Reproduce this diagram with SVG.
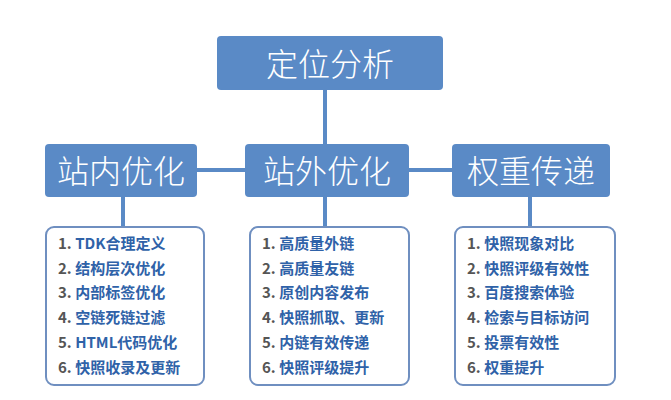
<svg xmlns="http://www.w3.org/2000/svg" width="671" height="400" viewBox="0 0 671 400">
<style>
.h{fill:#5a8ac6}
.ht{fill:#fff;font-family:"Noto Sans CJK SC",sans-serif;font-weight:300;text-anchor:middle}
.c{stroke:#5a8ac6;stroke-width:4;fill:none}
.lb{fill:#fff;stroke:#6f8fc0;stroke-width:2}
.lt{font-family:"Noto Sans CJK SC",sans-serif;font-weight:bold;font-size:15px;fill:#2f62a8}
.n{fill:#555}
</style>
<rect width="671" height="400" fill="#fff"/>
<g id="connectors">
<path class="c" d="M325 90V144M197 170H245M409 170H452M123 197V227M325 197V227M530 197V227"/>
</g>
<g id="top"><rect class="h" x="217" y="36" width="226" height="54" rx="4"/><text class="ht" x="330" y="76" font-size="32">定位分析</text></g>
<g id="n1"><rect class="h" x="45" y="144" width="152" height="53" rx="4"/><text class="ht" x="121" y="183" font-size="32">站内优化</text></g>
<g id="n2"><rect class="h" x="245" y="144" width="164" height="53" rx="4"/><text class="ht" x="327" y="183" font-size="32">站外优化</text></g>
<g id="n3"><rect class="h" x="452" y="144" width="158" height="53" rx="4"/><text class="ht" x="531" y="183" font-size="32">权重传递</text></g>
<g id="l1"><rect class="lb" x="46" y="227" width="158" height="158" rx="8"/>
<text class="lt" x="58" y="249"><tspan class="n">1. </tspan>TDK合理定义</text>
<text class="lt" x="58" y="274"><tspan class="n">2. </tspan>结构层次优化</text>
<text class="lt" x="58" y="298"><tspan class="n">3. </tspan>内部标签优化</text>
<text class="lt" x="58" y="323"><tspan class="n">4. </tspan>空链死链过滤</text>
<text class="lt" x="58" y="348"><tspan class="n">5. </tspan>HTML代码优化</text>
<text class="lt" x="58" y="373"><tspan class="n">6. </tspan>快照收录及更新</text></g>
<g id="l2"><rect class="lb" x="250" y="227" width="159" height="158" rx="8"/>
<text class="lt" x="262" y="249"><tspan class="n">1. </tspan>高质量外链</text>
<text class="lt" x="262" y="274"><tspan class="n">2. </tspan>高质量友链</text>
<text class="lt" x="262" y="298"><tspan class="n">3. </tspan>原创内容发布</text>
<text class="lt" x="262" y="323"><tspan class="n">4. </tspan>快照抓取、更新</text>
<text class="lt" x="262" y="348"><tspan class="n">5. </tspan>内链有效传递</text>
<text class="lt" x="262" y="373"><tspan class="n">6. </tspan>快照评级提升</text></g>
<g id="l3"><rect class="lb" x="455" y="227" width="160" height="158" rx="8"/>
<text class="lt" x="467" y="249"><tspan class="n">1. </tspan>快照现象对比</text>
<text class="lt" x="467" y="274"><tspan class="n">2. </tspan>快照评级有效性</text>
<text class="lt" x="467" y="298"><tspan class="n">3. </tspan>百度搜索体验</text>
<text class="lt" x="467" y="323"><tspan class="n">4. </tspan>检索与目标访问</text>
<text class="lt" x="467" y="348"><tspan class="n">5. </tspan>投票有效性</text>
<text class="lt" x="467" y="373"><tspan class="n">6. </tspan>权重提升</text></g>
</svg>
